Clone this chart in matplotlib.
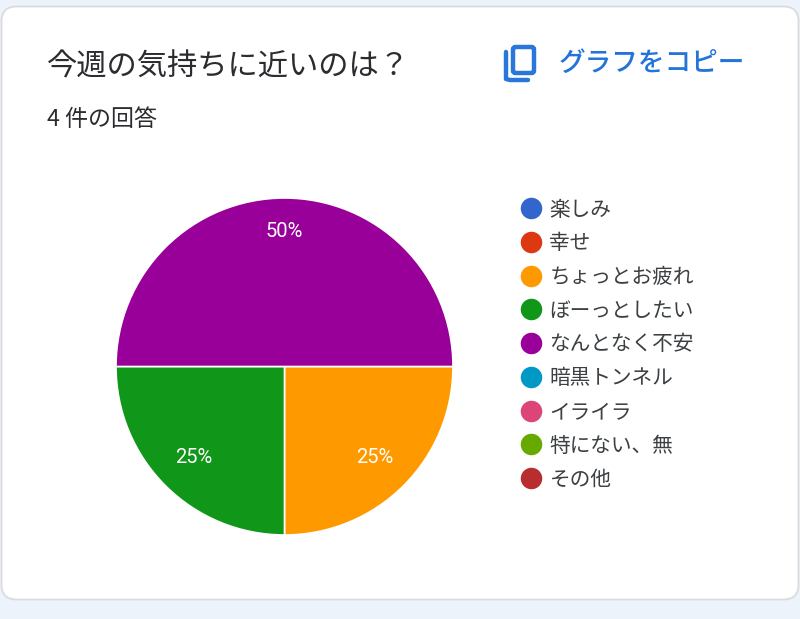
import matplotlib
matplotlib.use('Agg')
from matplotlib import pyplot as plt
from matplotlib.patches import FancyBboxPatch

plt.rcParams['font.family'] = ['Noto Sans CJK JP', 'DejaVu Sans']

title = '今週の気持ちに近いのは？'
subtitle = '4 件の回答'
copy_label = 'グラフをコピー'

categories = ['楽しみ', '幸せ', 'ちょっとお疲れ', 'ぼーっとしたい', 'なんとなく不安',
              '暗黒トンネル', 'イライラ', '特にない、無', 'その他']
values = [0, 0, 25, 25, 50, 0, 0, 0, 0]
colors = ['#3366cc', '#dc3912', '#ff9900', '#109618', '#990099',
          '#0099c6', '#dd4477', '#66aa00', '#b82e2e']

W, H = 800, 619
fig = plt.figure(figsize=(W / 100, H / 100), dpi=100, facecolor='#edf3fa')

# page layer in pixel coordinates
bg = fig.add_axes([0, 0, 1, 1])
bg.set_xlim(0, W)
bg.set_ylim(H, 0)
bg.axis('off')

card = FancyBboxPatch((1.5, 6.5), 797, 593, boxstyle='round,pad=0,rounding_size=15',
                      facecolor='white', edgecolor='#d9dbdf', linewidth=1.3)
bg.add_patch(card)

bg.text(47, 67, title, fontsize=21.8, color='#2b2c2f', va='center', ha='left')
bg.text(47, 120, subtitle, fontsize=16.6, color='#2b2c2f', va='center', ha='left')
bg.text(559, 63, copy_label, fontsize=19.2, color='#2274d9', va='center', ha='left', weight='medium')

# copy icon
blue = '#2a77dc'
bg.add_patch(FancyBboxPatch((513, 47), 21, 26, boxstyle='round,pad=0,rounding_size=2.5',
                            facecolor='none', edgecolor=blue, linewidth=3.2))
bg.plot([506, 506, 510, 528], [52, 79, 80, 80], color=blue, lw=3.2, solid_capstyle='round',
        solid_joinstyle='round')

# pie, only the answered categories have a slice
cx, cy, r = 284.5, 366.5, 168.5
ax = fig.add_axes([(cx - r) / W, 1 - (cy + r) / H, 2 * r / W, 2 * r / H])
shown = [i for i, v in enumerate(values) if v > 0]
wedges, texts, autotexts = ax.pie([values[i] for i in shown],
                                  colors=[colors[i] for i in shown],
                                  startangle=0, counterclock=False,
                                  autopct='%d%%', pctdistance=0.76,
                                  wedgeprops={'edgecolor': 'white', 'linewidth': 1.2},
                                  textprops={'color': 'white', 'fontsize': 14.5, 'family': 'Roboto'})
ax.set_xlim(-1, 1)
ax.set_ylim(-1, 1)
# the big slice has its label further out
px, py = autotexts[2].get_position()
autotexts[2].set_position((px, 0.8))

# legend
for i, name in enumerate(categories):
    y = 208 + i * 33.75
    bg.scatter([531], [y], s=240, color=colors[i], linewidths=0)
    bg.text(549.5, y + 1.5, name, fontsize=14.9, color='#3c4043', va='center', ha='left')

fig.savefig('out.png', dpi=100, facecolor=fig.get_facecolor())
